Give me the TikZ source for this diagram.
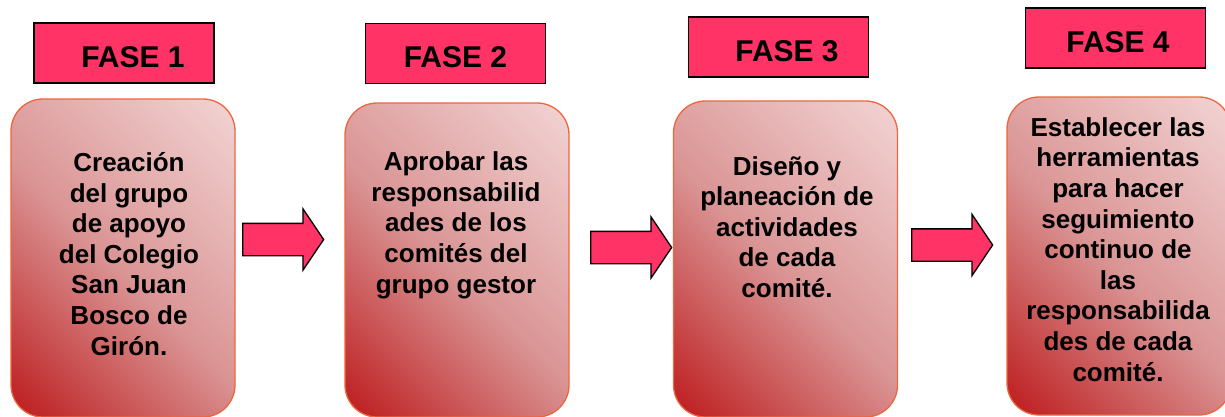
\documentclass[tikz,border=0pt]{standalone}
\usepackage{fontspec}
\setmainfont{Liberation Sans}
\usepackage{xcolor}
\usepackage{tikz}
\usetikzlibrary{shapes}
\usetikzlibrary{shapes.arrows}
\definecolor{fasepink}{RGB}{255,51,102}
\definecolor{boxdark}{RGB}{188,24,26}
\definecolor{boxmid}{RGB}{218,148,148}
\definecolor{boxlight}{RGB}{242,210,210}
\definecolor{boxline}{RGB}{236,102,62}
\pgfdeclareverticalshading{boxshade}{100bp}{color(0bp)=(boxdark); color(14bp)=(boxdark);
	color(48bp)=(boxmid); color(84bp)=(boxlight); color(100bp)=(boxlight)}
\tikzset{
	fase node/.style={rectangle,draw=black,fill=fasepink,line width=1.5pt,minimum width=180pt,
		minimum height=60pt,inner sep=0pt,text height=28pt,text depth=0pt,
		font=\fontsize{30}{34}\selectfont\bfseries},
	main node/.style={rectangle,draw=boxline,line width=1.3pt,rounded corners=32pt,minimum width=224pt,
		inner sep=0pt,shade,shading=boxshade,shading angle=-45},
	text node/.style={align=center,inner sep=0pt,anchor=base,font=\fontsize{26}{30.6}\selectfont\bfseries},
	arrow node/.style={single arrow,draw=black,fill=fasepink,line width=1.3pt,anchor=tail,
		minimum height=81pt,minimum width=60pt,single arrow head extend=14.5pt,
		single arrow tip angle=112,inner xsep=0pt,inner ysep=15.5pt}
}

\begin{document}
\begin{tikzpicture}[x=1pt,y=-1pt]
		    \clip (0,0) rectangle (1225,416);
		    % fases
		    \node [fase node] (f1) at (124,53) {\hspace*{18pt}FASE 1};
		    \node [fase node] (f2) at (455.5,53.5) {FASE 2};
		    \node [fase node] (f3) at (778.5,47) {\hspace*{17pt}FASE 3};
		    \node [fase node] (f4) at (1115.5,38) {\hspace*{5pt}FASE 4};
		    % cajas
		    \node [main node,minimum height=318pt] (1) at (123,258) {};
		    \node [main node,minimum height=314pt] (2) at (457,260) {};
		    \node [main node,minimum height=316pt] (3) at (785.5,259) {};
		    \node [main node,minimum height=318pt] (4) at (1119,256) {};
		    % texto (base = ultima linea)
		    \node [text node] (t1) at (129,355) {Creación\\del grupo\\de apoyo\\del Colegio\\San Juan\\Bosco de\\Girón.};
		    \node [text node] (t2) at (456,293) {Aprobar las\\responsabilid\\ades de los\\comités del\\grupo gestor};
		    \node [text node] (t3) at (787,297.5) {Diseño y\\planeación de\\actividades\\de cada\\comité.};
		    \node [text node] (t4) at (1118,381) {Establecer las\\herramientas\\para hacer\\seguimiento\\continuo de\\las\\responsabilida\\des de cada\\comité.};
		    % flechas
		    \node [arrow node] (a1) at (242,239.5) {};
		    \node [arrow node] (a2) at (590,247.5) {};
		    \node [arrow node] (a3) at (911,245) {};
\end{tikzpicture}
\end{document}
